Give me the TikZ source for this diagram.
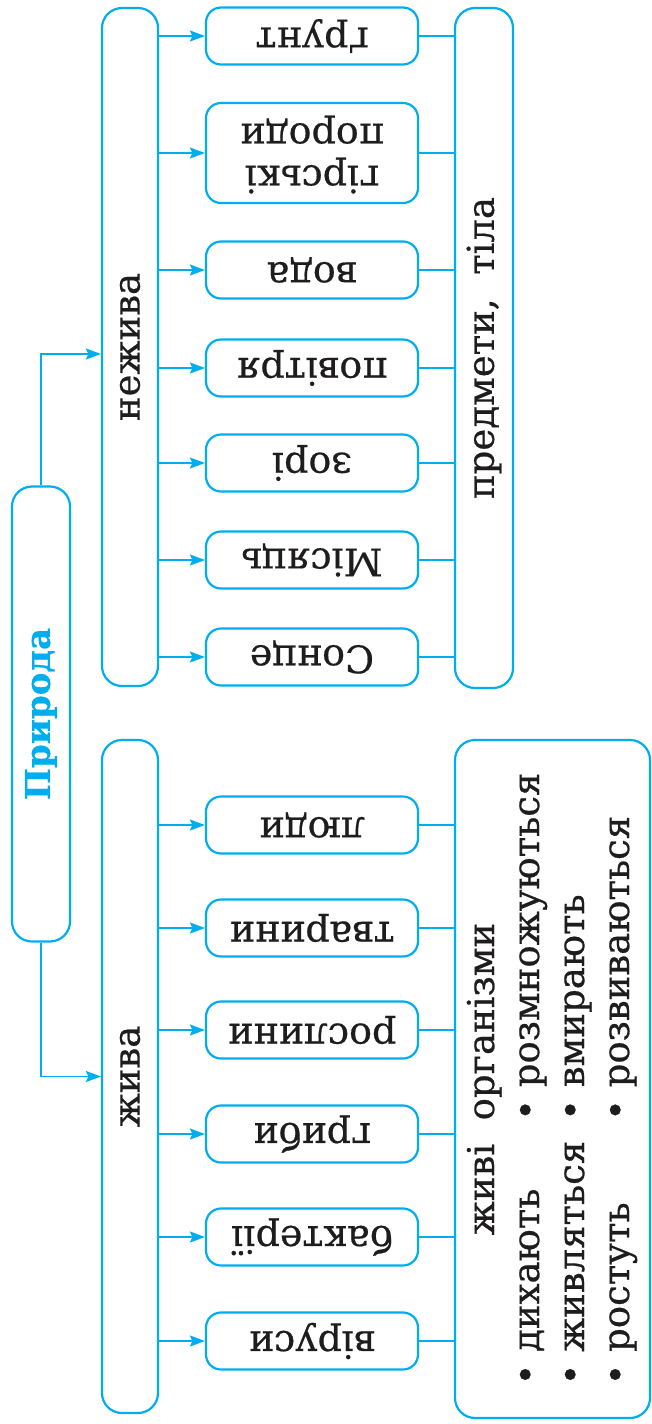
\documentclass[tikz,border=0pt]{standalone}
\usepackage{fontspec}
\setmainfont{DejaVu Serif}[FakeBold=0.5]
\usepackage{graphicx}
\usetikzlibrary{arrows.meta}
\definecolor{cy}{RGB}{0,174,239}
\definecolor{ink}{RGB}{30,28,28}
\begin{document}
\begin{tikzpicture}[x=1pt,y=-1pt,
  box/.style={draw=cy, line width=2.2pt, rounded corners=15pt, inner sep=0pt, text=ink,
    font=\fontsize{37}{42}\selectfont, align=center},
  small/.style={box, minimum width=212pt, minimum height=57pt, font=\fontsize{38}{42}\selectfont},
  big/.style={box, rounded corners=20pt},
  conn/.style={draw=cy, line width=1.7pt},
  arr/.style={conn, -{Stealth[length=15pt,width=11pt,inset=2.5pt]}}]
\useasboundingbox (0,0) rectangle (652,1424);
% main boxes
\node[big, minimum width=58pt, minimum height=455pt, text=cy,
  font=\fontsize{34}{38}\selectfont\bfseries] (prir) at (41,714) {\rotatebox{90}{Природа}};
\node[big, minimum width=56pt, minimum height=678pt] (nezh) at (130,347) {\rotatebox{90}{нежива}};
\node[big, minimum width=56pt, minimum height=673pt] (zhyva) at (130,1076.5) {\rotatebox{90}{жива}};
\node[big, minimum width=58pt, minimum height=680pt] (pred) at (484,348) {\rotatebox{90}{предмети,\ \ тіла}};
\node[big, minimum width=195pt, minimum height=678pt] (org) at (552.5,1079) {\rotatebox{90}{%
  \fontsize{37}{45}\selectfont
  \begin{tabular}{@{}l@{\hspace{20pt}}l@{}}
  \multicolumn{2}{c}{живі\ \ організми}\\
  • дихають & • розмножуються\\
  • живляться & • вмирають\\
  • ростуть & • розвиваються
  \end{tabular}}};
% small boxes: нежива
\node[small] (s1) at (312,36) {\rotatebox{180}{ґрунт}};
\node[small, minimum height=100pt] (s2) at (312,153) {\rotatebox{180}{\begin{tabular}{@{}c@{}}гірські\\породи\end{tabular}}};
\node[small] (s3) at (312,270) {\rotatebox{180}{вода}};
\node[small] (s4) at (312,368) {\rotatebox{180}{повітря}};
\node[small] (s5) at (312,463) {\rotatebox{180}{зорі}};
\node[small] (s6) at (312,560) {\rotatebox{180}{Місяць}};
\node[small] (s7) at (312,657) {\rotatebox{180}{Сонце}};
% small boxes: жива
\node[small] (t1) at (312,825) {\rotatebox{180}{люди}};
\node[small] (t2) at (312,928) {\rotatebox{180}{тварини}};
\node[small] (t3) at (312,1030) {\rotatebox{180}{рослини}};
\node[small] (t4) at (312,1134) {\rotatebox{180}{гриби}};
\node[small] (t5) at (312,1237) {\rotatebox{180}{бактерії}};
\node[small] (t6) at (312,1341) {\rotatebox{180}{віруси}};
% connectors
\draw[arr] (prir.north) |- ([yshift=-7pt]nezh.west);
\draw[arr] (prir.south) |- (zhyva.west);
\foreach \n in {s1,s2,s3,s4,s5,s6,s7}{
  \draw[arr] (nezh.east |- \n.west) -- (\n.west);
  \draw[conn] (\n.east) -- (pred.west |- \n.east);
}
\foreach \n in {t1,t2,t3,t4,t5,t6}{
  \draw[arr] (zhyva.east |- \n.west) -- (\n.west);
  \draw[conn] (\n.east) -- (org.west |- \n.east);
}
\end{tikzpicture}
\end{document}
